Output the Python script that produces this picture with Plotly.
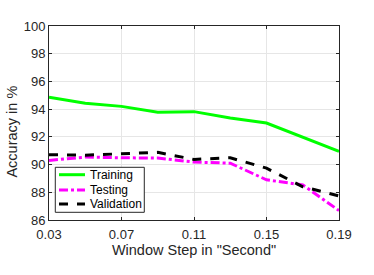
import plotly.graph_objects as go

window_step = [0.03, 0.05, 0.07, 0.09, 0.11, 0.13, 0.15, 0.17, 0.19]
training = [94.86, 94.42, 94.2, 93.77, 93.82, 93.36, 93.0, 92.0, 90.95]
testing = [90.3, 90.54, 90.49, 90.47, 90.18, 90.1, 88.9, 88.53, 86.68]
validation = [90.71, 90.68, 90.78, 90.88, 90.37, 90.49, 89.74, 88.4, 87.74]
series_names = ["Training", "Testing", "Validation"]
x_ticks = [0.03, 0.07, 0.11, 0.15, 0.19]
x_tick_labels = ["0.03", "0.07", "0.11", "0.15", "0.19"]
y_ticks = [86, 88, 90, 92, 94, 96, 98, 100]

colors = ["#00ff00", "#ff00ff", "#000000"]
dashes = ["solid", "dashdot", "dash"]
LW = 3

fig = go.Figure()
for name, ys, c, d in zip(series_names, [training, testing, validation], colors, dashes):
    fig.add_trace(go.Scatter(x=window_step, y=ys, mode="lines", name=name,
                             line=dict(color=c, width=LW, dash=d), showlegend=False,
                             hoverinfo="skip"))

axis_common = dict(showline=True, linecolor="#262626", linewidth=1, mirror="ticks",
                   ticks="inside", ticklen=3, tickcolor="#262626", automargin=False,
                   showgrid=True, gridcolor="#e6e6e6", gridwidth=1, zeroline=False,
                   tickfont=dict(size=13, color="#262626", family="Liberation Sans, Arial"))

# manual legend box (paper coords = plot area fractions)
box = dict(x0=0.0217, x1=0.3286, y0=0.0397, y1=0.2716)
row_y = [0.2335, 0.1546, 0.0825]
line_x0, line_x1, text_x = 0.0345, 0.1241, 0.1334

shapes = [dict(type="rect", xref="paper", yref="paper", layer="above",
               x0=box["x0"], x1=box["x1"], y0=box["y0"], y1=box["y1"],
               fillcolor="white", line=dict(color="#262626", width=1))]
annotations = []
for name, c, d, ry in zip(series_names, colors, dashes, row_y):
    shapes.append(dict(type="line", xref="paper", yref="paper", layer="above",
                       x0=line_x0, x1=line_x1, y0=ry, y1=ry,
                       line=dict(color=c, width=LW, dash=d)))
    annotations.append(dict(text=name, xref="paper", yref="paper", x=text_x, y=ry,
                            xanchor="left", yanchor="middle", showarrow=False,
                            font=dict(size=12, color="#000000", family="Liberation Sans, Arial")))

annotations.append(dict(text="Accuracy in %", xref="paper", yref="paper",
                        x=-0.129, y=0.4536, textangle=-90, xanchor="center", yanchor="middle",
                        showarrow=False,
                        font=dict(size=14.5, color="#262626", family="Liberation Sans, Arial")))

fig.update_layout(
    width=374, height=275,
    margin=dict(l=49, r=35, t=26, b=55),
    paper_bgcolor="white", plot_bgcolor="white",
    font=dict(family="Liberation Sans, Arial", color="#262626"),
    xaxis=dict(range=[0.03, 0.19], tickvals=x_ticks, ticktext=x_tick_labels,
               ticklabelstandoff=2,
               title=dict(text='Window Step in "Second"', font=dict(size=14.5), standoff=4),
               **axis_common),
    yaxis=dict(range=[86, 100], tickvals=y_ticks, **axis_common),
    shapes=shapes,
    annotations=annotations,
    showlegend=False,
    hovermode=False,
)

fig.write_html("out.html", config={"displayModeBar": False},
               post_script="document.body.style.margin='0px';")
